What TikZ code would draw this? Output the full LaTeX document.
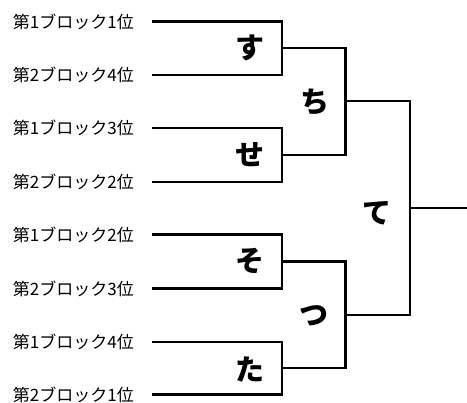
\documentclass[tikz,border=0pt]{standalone}
\usepackage{fontspec}
\newfontfamily\jpfont{Noto Sans CJK JP}
\begin{document}
\begin{tikzpicture}[x=1pt,y=-1pt,
  team/.style={anchor=east,inner sep=0pt,font=\jpfont\fontsize{17}{17}\selectfont},
  match/.style={inner sep=0pt,font=\jpfont\bfseries\fontsize{29}{29}\selectfont},
  br/.style={line width=2.2pt,line cap=rect}]
\useasboundingbox (0,0) rectangle (467,403);
% team labels
\node[team] (t1) at (134,21.5) {第1ブロック1位};
\node[team] (t2) at (134,75) {第2ブロック4位};
\node[team] (t3) at (134,128) {第1ブロック3位};
\node[team] (t4) at (134,182) {第2ブロック2位};
\node[team] (t5) at (134,234.5) {第1ブロック2位};
\node[team] (t6) at (134,288.5) {第2ブロック3位};
\node[team] (t7) at (134,342) {第1ブロック4位};
\node[team] (t8) at (134,394.5) {第2ブロック1位};
% line starts
\foreach \i/\y in {1/21.5,2/75,3/128,4/182,5/234.5,6/288.5,7/342,8/394.5}
  \coordinate (s\i) at (153,\y);
% round 1
\coordinate (a1) at (282,48.3);
\coordinate (a2) at (282,155);
\coordinate (a3) at (282,261.5);
\coordinate (a4) at (282,368.3);
\draw[br] (s1) -| (a1) |- (s2);
\draw[br] (s3) -| (a2) |- (s4);
\draw[br] (s5) -| (a3) |- (s6);
\draw[br] (s7) -| (a4) |- (s8);
% round 2
\coordinate (b1) at (345.5,101);
\coordinate (b2) at (345.5,315);
\draw[br] (a1) -| (b1) |- (a2);
\draw[br] (a3) -| (b2) |- (a4);
% final
\coordinate (c1) at (410,208);
\coordinate (w) at (467,208);
\draw[br] (b1) -| (c1) |- (b2);
\draw[br] (c1) -- (w);
% match labels
\node[match] (m1) at (250,48) {す};
\node[match] (m2) at (250,155) {せ};
\node[match] (m3) at (250,261.5) {そ};
\node[match] (m4) at (250,369) {た};
\node[match] (m5) at (315,102) {ち};
\node[match] (m6) at (314,316) {つ};
\node[match] (m7) at (377,213) {て};
\end{tikzpicture}
\end{document}
